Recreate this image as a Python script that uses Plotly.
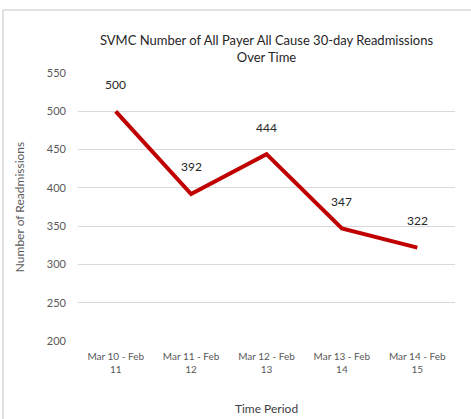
import plotly.graph_objects as go

periods = ["Mar 10 - Feb<br>11", "Mar 11 - Feb<br>12", "Mar 12 - Feb<br>13",
           "Mar 13 - Feb<br>14", "Mar 14 - Feb<br>15"]
readmissions = [500, 392, 444, 347, 322]
y_ticks = [200, 250, 300, 350, 400, 450, 500, 550]

font_family = "Lato, Open Sans, sans-serif"

fig = go.Figure()
fig.add_trace(go.Scatter(
    x=periods, y=readmissions, mode="lines",
    line=dict(color="#C00000", width=4),
    hoverinfo="x+y",
))

for p, v in zip(periods, readmissions):
    fig.add_annotation(x=p, y=v, text=str(v), showarrow=False, yshift=27,
                       font=dict(family=font_family, size=12, color="#262626"))

# thin frame around the chart area
fig.add_shape(type="rect", xref="paper", yref="paper",
              x0=-0.199, x1=1.06, y0=-0.4, y1=1.235,
              line=dict(color="#d9d9d9", width=1.5), layer="below")

fig.update_layout(
    width=471, height=419,
    margin=dict(l=78, r=16, t=73, b=78),
    paper_bgcolor="white", plot_bgcolor="white",
    showlegend=False,
    font=dict(family=font_family, color="#595959"),
    title=dict(text="SVMC Number of All Payer All Cause 30-day Readmissions<br>Over Time",
               x=0.5, xref="paper", xanchor="center", y=0.893, yanchor="middle",
               font=dict(family=font_family, size=13, color="#262626")),
)
fig.update_xaxes(
    type="category", range=[-0.5, 4.5], showgrid=False, zeroline=False,
    showline=False, ticks="", ticklabelstandoff=8, automargin=False,
    tickfont=dict(size=10, color="#595959"),
    title=dict(text="Time Period", standoff=30,
               font=dict(family=font_family, size=12, color="#404040")),
)
fig.update_yaxes(
    range=[200, 550], tickvals=y_ticks, showgrid=True, gridcolor="#d9d9d9",
    gridwidth=1, zeroline=False, showline=False, ticks="",
    ticklabelstandoff=11, automargin=False,
    tickfont=dict(size=11, color="#595959"),
    title=dict(text="Number of Readmissions", standoff=19,
               font=dict(family=font_family, size=12, color="#595959")),
)

fig.write_html("out.html")
